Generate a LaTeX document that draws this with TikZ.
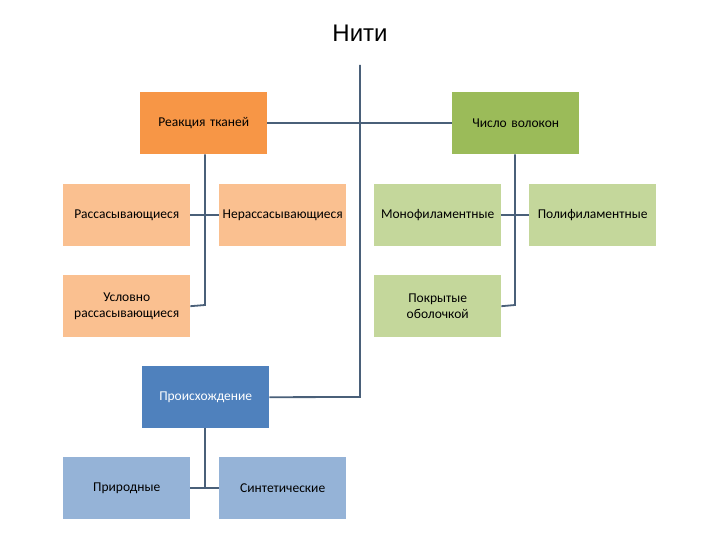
\documentclass[tikz,border=0pt]{standalone}
\usepackage{fontspec}
\setmainfont{Carlito}
\newfontfamily\titlefont{Liberation Sans}
\definecolor{lineC}{HTML}{4A6079}
\definecolor{orgD}{HTML}{F79646}
\definecolor{orgL}{HTML}{FAC090}
\definecolor{grnD}{HTML}{9BBB59}
\definecolor{grnL}{HTML}{C4D79B}
\definecolor{bluD}{HTML}{4F81BD}
\definecolor{bluL}{HTML}{95B3D7}
\begin{document}
\begin{tikzpicture}[x=1pt,y=-1pt,
  box/.style={minimum height=62pt,inner sep=0pt,text width=127pt,align=center,font=\fontsize{13.5}{16}\selectfont,anchor=north west},
  conn/.style={draw=lineC,line width=1.8pt}]
\useasboundingbox (0,0) rectangle (720,540);
\node[font=\titlefont\fontsize{24}{28}\selectfont] (title) at (360,33) {Нити};
\coordinate (top) at (360,65);
\node[box,fill=orgD] (react) at (140,92) {Реакция тканей};
\node[box,fill=grnD] (num) at (452,92) {Число волокон};
\node[box,fill=orgL] (ras) at (63,184) {Рассасывающиеся};
\node[box,fill=orgL] (neras) at (219,184) {Нерассасывающиеся};
\node[box,fill=orgL] (usl) at (63,275) {Условно\\рассасывающиеся};
\node[box,fill=grnL] (mono) at (374,184) {Монофиламентные};
\node[box,fill=grnL] (poli) at (529,184) {Полифиламентные};
\node[box,fill=grnL] (pokr) at (374,275) {Покрытые\\оболочкой};
\node[box,fill=bluD,text=white] (proish) at (142,366) {Происхождение};
\node[box,fill=bluL] (prir) at (63,457) {Природные};
\node[box,fill=bluL] (sint) at (219,457) {Синтетические};
% main trunk
\draw[conn] (top) -- (360,397) -- (proish.east);
\draw[conn] (react.east) -- (num.west);
% left branch
\draw[conn] (react.south -| 205,0) -- (205,305) -- (usl.east);
\draw[conn] (ras.east) -- (neras.west);
% right branch
\draw[conn] (num.south -| 515,0) -- (515,305) -- (pokr.east);
\draw[conn] (mono.east) -- (poli.west);
% bottom branch
\draw[conn] (proish.south -| 205,0) -- (205,488);
\draw[conn] (prir.east) -- (sint.west);
\end{tikzpicture}
\end{document}
